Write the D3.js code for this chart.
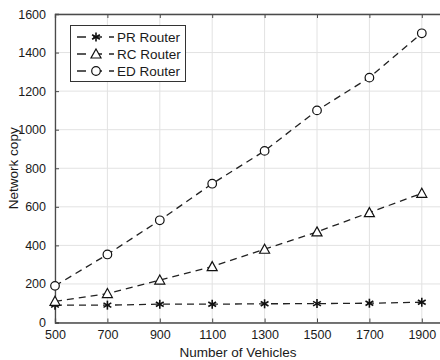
<!DOCTYPE html>
<html lang="en">
<head>
<meta charset="UTF-8">
<title>Network copy</title>
<style>
  body { margin: 0; background: #fff; }
  svg { font-family: "Liberation Sans", Arial, sans-serif; }
</style>
</head>
<body>
<svg width="440" height="360"></svg>
<script src="https://d3js.org/d3.v7.min.js"></script>
<script>
  const vehicles = [500, 700, 900, 1100, 1300, 1500, 1700, 1900];
  const prRouter = [90, 90, 95, 95, 97, 98, 100, 105];
  const rcRouter = [110, 150, 220, 290, 380, 470, 570, 670];
  const edRouter = [190, 353, 530, 720, 890, 1100, 1270, 1500];
  const seriesNames = ['PR Router', 'RC Router', 'ED Router'];
  const yTicks = [0, 200, 400, 600, 800, 1000, 1200, 1400, 1600];

  const svg = d3.select('svg');
  const plotLeft = 55, plotRight = 448, plotTop = 14, plotBottom = 322.5;

  const x = d3.scaleLinear().domain([500, 2000]).range([plotLeft, plotRight]);
  const y = d3.scaleLinear().domain([0, 1600]).range([plotBottom, plotTop]);

  const axisColor = '#4a4a4a';
  const g = svg.append('g');

  // grid
  g.selectAll('.vg').data(vehicles).enter().append('line')
    .attr('x1', d => x(d)).attr('x2', d => x(d))
    .attr('y1', plotTop).attr('y2', plotBottom)
    .attr('stroke', '#e2e2e2').attr('stroke-width', 1);
  g.selectAll('.hg').data(yTicks).enter().append('line')
    .attr('x1', plotLeft).attr('x2', plotRight)
    .attr('y1', d => y(d)).attr('y2', d => y(d))
    .attr('stroke', '#e2e2e2').attr('stroke-width', 1);

  // axes (ticks inward, like matlab)
  const xAxis = g.append('g').attr('transform', `translate(0,${plotBottom})`)
    .call(d3.axisBottom(x).tickValues(vehicles).tickSize(-4).tickPadding(8).tickFormat(d3.format('d')));
  const xTop = g.append('g').attr('transform', `translate(0,${plotTop})`)
    .call(d3.axisTop(x).tickValues(vehicles).tickSize(-4).tickFormat(''));
  const yAxis = g.append('g').attr('transform', `translate(${plotLeft},0)`)
    .call(d3.axisLeft(y).tickValues(yTicks).tickSize(-4).tickPadding(9).tickFormat(d3.format('d')));
  for (const a of [xAxis, xTop, yAxis]) {
    a.select('.domain').attr('stroke', axisColor).attr('stroke-width', 1.3);
    a.selectAll('.tick line').attr('stroke', axisColor);
    a.selectAll('text').attr('fill', '#1a1a1a').attr('font-size', 12.5)
      .attr('font-family', '"Liberation Sans", Arial, sans-serif');
  }

  // axis titles
  svg.append('text').attr('x', 238).attr('y', 357)
    .attr('text-anchor', 'middle').attr('font-size', 13.5).attr('fill', '#1a1a1a')
    .text('Number of Vehicles');
  svg.append('text').attr('transform', `translate(18,${(plotTop + plotBottom) / 2}) rotate(-90)`)
    .attr('text-anchor', 'middle').attr('font-size', 13.5).attr('fill', '#1a1a1a')
    .text('Network copy');

  const line = d3.line().x((d, i) => x(vehicles[i])).y(d => y(d));
  const allSeries = [prRouter, rcRouter, edRouter];
  const markers = ['star', 'tri', 'circle'];

  function drawMarker(sel, type, cx, cy) {
    const m = sel.append('g').attr('transform', `translate(${cx},${cy})`)
      .attr('fill', 'none').attr('stroke', '#111').attr('stroke-width', 1.2);
    if (type === 'circle') {
      m.append('circle').attr('r', 4.3).attr('fill', '#fff');
    } else if (type === 'tri') {
      m.append('path').attr('d', 'M0,-5L5,4L-5,4Z').attr('fill', '#fff');
    } else {
      for (const ang of [0, 60, 120]) {
        m.append('line').attr('x1', 0).attr('y1', -4.5).attr('x2', 0).attr('y2', 4.5)
          .attr('transform', `rotate(${ang})`).attr('stroke-width', 1.6);
      }
    }
  }

  allSeries.forEach((s, k) => {
    g.append('path').datum(s)
      .attr('d', line)
      .attr('fill', 'none').attr('stroke', '#222')
      .attr('stroke-width', 1.3).attr('stroke-dasharray', '7,5');
    s.forEach((v, i) => drawMarker(g, markers[k], x(vehicles[i]), y(v)));
  });

  // legend
  const lg = svg.append('g');
  lg.append('rect').attr('x', 70.5).attr('y', 25.5).attr('width', 115).attr('height', 56)
    .attr('fill', '#fff').attr('stroke', '#333').attr('stroke-width', 1);
  seriesNames.forEach((name, k) => {
    const ly = 37 + k * 17;
    lg.append('line').attr('x1', 77).attr('x2', 114).attr('y1', ly).attr('y2', ly)
      .attr('stroke', '#222').attr('stroke-width', 1.3).attr('stroke-dasharray', '9,7');
    drawMarker(lg, markers[k], 96, ly);
    lg.append('text').attr('x', 117).attr('y', ly + 5)
      .attr('font-size', 13.5).attr('fill', '#1a1a1a').text(name);
  });
</script>
</body>
</html>
